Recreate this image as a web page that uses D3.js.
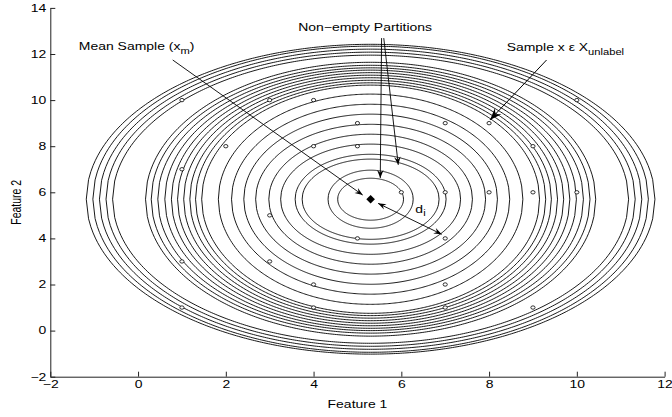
<!DOCTYPE html>
<html>
<head>
<meta charset="utf-8">
<script src="https://cdn.jsdelivr.net/npm/d3@7"></script>
<style>
  html, body { margin: 0; padding: 0; background: #fff; }
  text { font-family: "Liberation Sans", Arial, Helvetica, sans-serif; fill: #000; }
</style>
</head>
<body>
<svg id="chart" width="672" height="417"></svg>
<script>
// ---- axis ranges and ticks ----
const xDomain = [-2, 12];
const yDomain = [-2, 14];
const xTicks = [-2, 0, 2, 4, 6, 8, 10, 12];
const yTicks = [-2, 0, 2, 4, 6, 8, 10, 12, 14];

// ---- unlabelled samples (Feature 1, Feature 2) ----
const sampleX = [1, 3, 4, 10, 5, 7, 8, 2, 4, 5, 9, 1, 6, 7, 8, 9, 10, 3, 5, 7, 1, 3, 4, 7, 1, 4, 7, 9];
const sampleY = [10, 10, 10, 10, 9, 9, 9, 8, 8, 8, 8, 7, 6, 6, 6, 6, 6, 5, 4, 4, 3, 3, 2, 2, 1, 1, 1, 1];

// ---- mean sample x_m ----
const meanSample = [5.3, 5.7];

// ---- partition rings around x_m: half-widths along Feature 1 and Feature 2 ----
const ringRx = [0.75, 0.97, 1.56, 1.72, 2.05, 2.32, 2.62, 2.89, 3.17, 3.47,
                3.85, 3.99, 4.12, 4.26, 4.40, 4.54, 4.69, 4.85, 5.00, 5.13,
                5.88, 6.03, 6.18, 6.33, 6.48];
const ringRy = [0.91, 1.26, 1.74, 1.95, 2.39, 2.82, 3.25, 3.69, 4.12, 4.56,
                4.95, 5.05, 5.16, 5.27, 5.38, 5.49, 5.60, 5.70, 5.81, 5.94,
                6.25, 6.38, 6.51, 6.64, 6.72];

// ---- annotations (data coordinates) ----
const labelText = ["Mean Sample (x", "Non\u2212empty Partitions", "Sample x \u03b5 X"];
const meanArrow = [[0.79, 11.74], [5.12, 5.88]];
const partitionArrows = [
  [[5.55, 12.69], [5.52, 6.62]],
  [[5.60, 12.69], [5.93, 7.19]]
];
const sampleArrow = [[9.31, 11.74], [8.02, 9.14]];
const distArrow = [[5.47, 5.52], [6.92, 4.18]];

// ---- layout ----
const svg = d3.select("#chart");
const x = d3.scaleLinear().domain(xDomain).range([50.3, 664.6]);
const y = d3.scaleLinear().domain(yDomain).range([376.7, 7.9]);
const FONT = 10.5;     // glyph height
const STRETCH = 1.33;  // horizontal glyph stretch

const fmt = d => d < 0 ? "\u2212" + Math.abs(d) : String(d);

// ---- rings: upper and lower halves sampled at even steps along Feature 1 ----
const steps = 250;
const tVals = d3.range(steps + 1).map(i => -1 + (2 * i) / steps);
const ringLine = d3.line().curve(d3.curveLinearClosed);
const rings = svg.append("g").attr("class", "rings");
ringRx.forEach((rx, i) => {
  const ry = ringRy[i];
  const upper = tVals.map(t => [x(meanSample[0] + rx * t), y(meanSample[1] + ry * Math.sqrt(Math.max(0, 1 - t * t)))]);
  const lower = tVals.slice().reverse().map(t => [x(meanSample[0] + rx * t), y(meanSample[1] - ry * Math.sqrt(Math.max(0, 1 - t * t)))]);
  rings.append("path")
    .attr("d", ringLine(upper.concat(lower)))
    .attr("fill", "none")
    .attr("stroke", "#000")
    .attr("stroke-width", 0.9)
    .attr("stroke-linejoin", "round");
});

// ---- samples ----
svg.append("g").selectAll("ellipse")
  .data(sampleX.map((v, i) => [v, sampleY[i]]))
  .join("ellipse")
  .attr("cx", d => x(d[0]))
  .attr("cy", d => y(d[1]))
  .attr("rx", 2.1)
  .attr("ry", 1.7)
  .attr("fill", "#fff")
  .attr("stroke", "#000")
  .attr("stroke-width", 0.8);

// ---- mean sample marker ----
{
  const cx = x(meanSample[0]), cy = y(meanSample[1]);
  svg.append("path")
    .attr("d", `M${cx},${cy - 4.3}L${cx + 4.3},${cy}L${cx},${cy + 4.3}L${cx - 4.3},${cy}Z`)
    .attr("fill", "#000");
}

// ---- axes ----
const xAxis = d3.axisBottom(x).tickValues(xTicks).tickFormat(fmt).tickSizeInner(-5).tickSizeOuter(0).tickPadding(4);
const yAxis = d3.axisLeft(y).tickValues(yTicks).tickFormat(fmt).tickSizeInner(-5).tickSizeOuter(0).tickPadding(4);

function styleAxis(g, isX) {
  g.attr("font-family", null).attr("font-size", FONT);
  g.select(".domain").attr("stroke", "#222");
  g.selectAll(".tick line").attr("stroke", "#222");
  g.selectAll(".tick text").each(function () {
    const t = d3.select(this);
    if (isX) {
      t.attr("transform", `scale(${STRETCH},1)`);
    } else {
      const xx = +t.attr("x");
      t.attr("x", xx / STRETCH).attr("transform", `scale(${STRETCH},1)`);
    }
  });
}
svg.append("g").attr("transform", `translate(0,${y(yDomain[0])})`).call(xAxis).call(g => styleAxis(g, true));
svg.append("g").attr("transform", `translate(${x(xDomain[0])},0)`).call(yAxis).call(g => styleAxis(g, false));

// ---- text helper (stretched glyphs, optional subscript) ----
function label(px, py, main, sub, tail, anchor, rotate) {
  const t = svg.append("text")
    .attr("transform", `translate(${px},${py}) scale(${STRETCH},1)` + (rotate ? ` rotate(${rotate})` : ""))
    .attr("font-size", FONT)
    .attr("text-anchor", anchor || "start");
  t.append("tspan").text(main);
  if (sub) t.append("tspan").attr("dy", 3.5).attr("font-size", FONT * 0.8).text(sub);
  if (tail) t.append("tspan").attr("dy", sub ? -3.5 : 0).text(tail);
  return t;
}

label((x(xDomain[0]) + x(xDomain[1])) / 2, 408, "Feature 1", null, null, "middle");
label(21, (y(yDomain[0]) + y(yDomain[1])) / 2 + 10, "Feature 2", null, null, "middle", -90);

// ---- arrows ----
function arrow(p0, p1, len, wid, both, sw) {
  const [x0, y0] = [x(p0[0]), y(p0[1])];
  const [x1, y1] = [x(p1[0]), y(p1[1])];
  svg.append("line")
    .attr("x1", x0).attr("y1", y0).attr("x2", x1).attr("y2", y1)
    .attr("stroke", "#000").attr("stroke-width", sw || 0.9);
  const head = (tx, ty, fx, fy) => {
    const dx = tx - fx, dy = ty - fy, L = Math.hypot(dx, dy);
    const ux = dx / L, uy = dy / L, nx = -uy, ny = ux;
    const bx = tx - ux * len, by = ty - uy * len;
    const mx = tx - ux * len * 0.65, my = ty - uy * len * 0.65;
    svg.append("path")
      .attr("d", `M${tx},${ty}L${bx + nx * wid / 2},${by + ny * wid / 2}L${mx},${my}L${bx - nx * wid / 2},${by - ny * wid / 2}Z`)
      .attr("fill", "#000");
  };
  head(x1, y1, x0, y0);
  if (both) head(x0, y0, x1, y1);
}

arrow(meanArrow[0], meanArrow[1], 8, 6);
partitionArrows.forEach(a => arrow(a[0], a[1], 8, 6.5));
arrow(sampleArrow[0], sampleArrow[1], 12, 9, false, 1);
arrow(distArrow[0], distArrow[1], 8, 6, true);

// ---- annotation labels ----
label(x(-1.35), y(12.17), labelText[0], "m", ")");
label(x(3.65), y(13.01), labelText[1]);
label(x(8.40), y(12.13), labelText[2], "unlabel");
label(x(6.32), y(5.11), "d", "i");
</script>
</body>
</html>
